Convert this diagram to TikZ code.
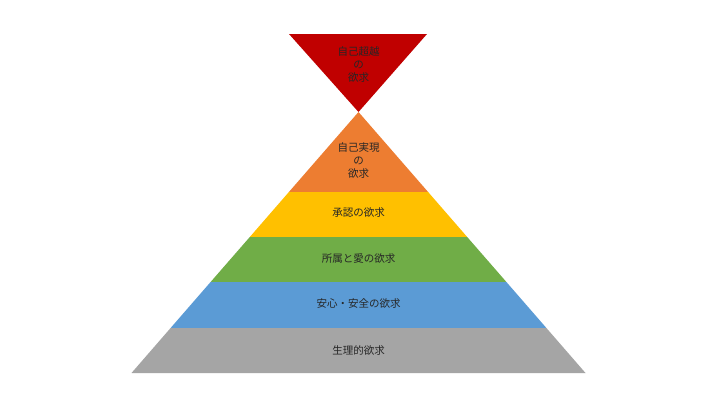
\documentclass[tikz,border=0pt]{standalone}
\usepackage{fontspec}
\newfontfamily\jp{Noto Sans CJK JP}
\definecolor{cRed}{HTML}{C00000}
\definecolor{cOrange}{HTML}{ED7D31}
\definecolor{cYellow}{HTML}{FFC000}
\definecolor{cGreen}{HTML}{70AD47}
\definecolor{cBlue}{HTML}{5B9BD5}
\definecolor{cGray}{HTML}{A5A5A5}
\definecolor{cText}{HTML}{262626}
\tikzset{
  lbl/.style={font=\jp\fontsize{10.5}{13}\selectfont, text=cText, align=center, inner sep=0pt}
}
\begin{document}
\begin{tikzpicture}[x=1pt,y=-1pt]
\useasboundingbox (0,0) rectangle (720,405);
\fill[white] (0,0) rectangle (720,405);
% apex and band edges
\coordinate (ap) at (358.5,112);
\coordinate (tl) at (289,34);
\coordinate (tr) at (427,34);
\coordinate (l1) at (288.9,192); \coordinate (r1) at (428.1,192);
\coordinate (l2) at (249.8,237); \coordinate (r2) at (467.2,237);
\coordinate (l3) at (210.6,282); \coordinate (r3) at (506.4,282);
\coordinate (l4) at (170.6,328); \coordinate (r4) at (546.4,328);
\coordinate (l5) at (131.5,373); \coordinate (r5) at (585.5,373);
% shapes
\fill[cRed]    (tl) -- (tr) -- (ap) -- cycle;
\fill[cOrange] (ap) -- (r1) -- (l1) -- cycle;
\fill[cYellow] (l1) -- (r1) -- (r2) -- (l2) -- cycle;
\fill[cGreen]  (l2) -- (r2) -- (r3) -- (l3) -- cycle;
\fill[cBlue]   (l3) -- (r3) -- (r4) -- (l4) -- cycle;
\fill[cGray]   (l4) -- (r4) -- (r5) -- (l5) -- cycle;
% labels
\node[lbl] (t0) at (358.5,65) {自己超越\\の\\欲求};
\node[lbl] (t1) at (358.5,161) {自己実現\\の\\欲求};
\node[lbl] (t2) at (358.5,213) {承認の欲求};
\node[lbl] (t3) at (358.5,259) {所属と愛の欲求};
\node[lbl] (t4) at (358.5,304) {安心・安全の欲求};
\node[lbl] (t5) at (358.5,350) {生理的欲求};
\end{tikzpicture}
\end{document}
